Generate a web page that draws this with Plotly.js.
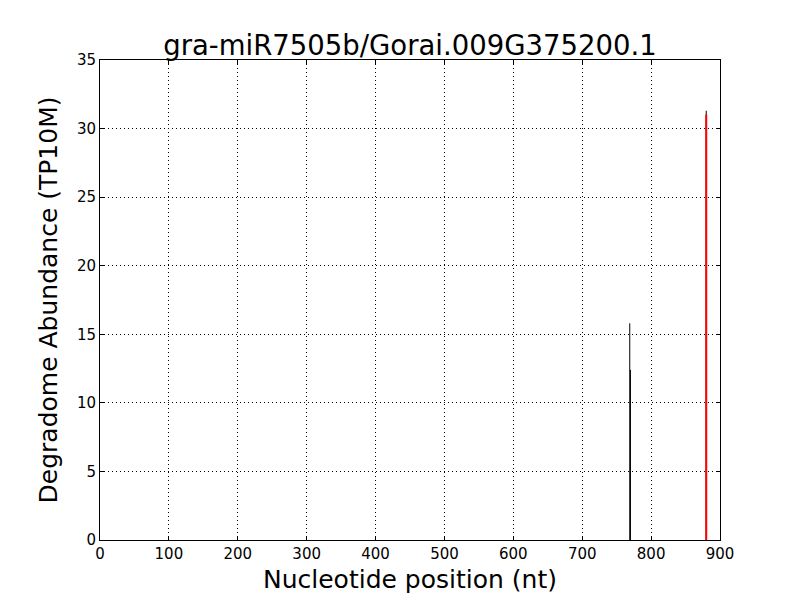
<!DOCTYPE html>
<html>
<head>
<meta charset="utf-8">
<script src="https://cdn.plot.ly/plotly-3.0.1.min.js"></script>
<style>html,body{margin:0;padding:0;background:#fff;}#chart{width:800px;height:600px;}</style>
</head>
<body>
<div id="chart"></div>
<script>
const degradomePositions = [769, 770, 880];
const degradomeAbundance = [15.8, 12.4, 31.3];
const targetPositions = [880];
const targetAbundance = [31.0];
const xTicks = [0, 100, 200, 300, 400, 500, 600, 700, 800, 900];
const yTicks = [0, 5, 10, 15, 20, 25, 30, 35];

function stems(xs, ys) {
  const x = [], y = [];
  xs.forEach((p, i) => { x.push(p, p, null); y.push(0, ys[i], null); });
  return {x, y};
}
const d = stems(degradomePositions, degradomeAbundance);
const t = stems(targetPositions, targetAbundance);

const traces = [
  {x: d.x, y: d.y, mode: 'lines', line: {color: '#000000', width: 1}, hoverinfo: 'skip', showlegend: false},
  {x: t.x, y: t.y, mode: 'lines', line: {color: '#ff0000', width: 2}, hoverinfo: 'skip', showlegend: false}
];

const axisCommon = {
  showline: true, linecolor: '#000', linewidth: 1, mirror: 'allticks',
  ticks: 'inside', ticklen: 4, tickcolor: '#000', tickwidth: 1,
  showgrid: true, gridcolor: '#000', griddash: '1px,3px', gridwidth: 1,
  zeroline: false, tickfont: {family: 'DejaVu Sans', size: 15, color: '#000'}
};

const layout = {
  width: 800, height: 600,
  margin: {l: 100, r: 80, t: 60, b: 60},
  paper_bgcolor: '#fff', plot_bgcolor: '#fff',
  title: {text: 'gra-miR7505b/Gorai.009G375200.1', font: {family: 'DejaVu Sans', size: 27.5, color: '#000'}, xref: 'paper', x: 0.5, xanchor: 'center', y: 0.908, yanchor: 'bottom'},
  xaxis: Object.assign({}, axisCommon, {range: [0, 900], tickvals: xTicks, ticktext: xTicks.map(String),
    title: {text: 'Nucleotide position (nt)', font: {family: 'DejaVu Sans', size: 25, color: '#000'}, standoff: 8}}),
  yaxis: Object.assign({}, axisCommon, {range: [0, 35], tickvals: yTicks, ticktext: yTicks.map(String),
    title: {text: 'Degradome Abundance (TP10M)', font: {family: 'DejaVu Sans', size: 25, color: '#000'}, standoff: 12}})
};

Plotly.newPlot('chart', traces, layout, {displayModeBar: false, staticPlot: true});
</script>
</body>
</html>
